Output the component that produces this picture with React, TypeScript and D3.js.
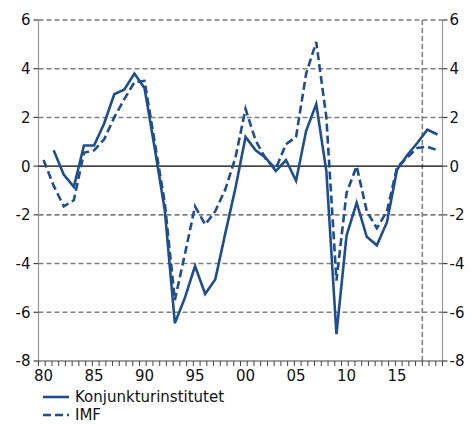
import React from 'react';
import * as d3 from 'd3';

const years = [
  1980, 1981, 1982, 1983, 1984, 1985, 1986, 1987, 1988, 1989,
  1990, 1991, 1992, 1993, 1994, 1995, 1996, 1997, 1998, 1999,
  2000, 2001, 2002, 2003, 2004, 2005, 2006, 2007, 2008, 2009,
  2010, 2011, 2012, 2013, 2014, 2015, 2016, 2017, 2018, 2019,
];

// Konjunkturinstitutet (solid)
const ki = [
  null, 0.65, -0.35, -0.85, 0.85, 0.85, 1.75, 2.95, 3.15, 3.8,
  3.2, 0.75, -1.8, -6.45, -5.4, -4.1, -5.25, -4.65, -2.75, -0.9,
  1.2, 0.65, 0.35, -0.2, 0.25, -0.6, 1.45, 2.55, -0.2, -6.9,
  -2.85, -1.5, -2.9, -3.25, -2.3, -0.15, 0.45, 0.95, 1.5, 1.3,
];

// IMF (dashed)
const imf = [
  0.25, -0.8, -1.65, -1.4, 0.55, 0.65, 1.1, 2.0, 2.75, 3.45,
  3.5, 1.0, -1.5, -5.5, -3.6, -1.65, -2.4, -1.85, -0.95, 0.35,
  2.35, 1.05, 0.3, -0.1, 0.9, 1.2, 3.8, 5.1, 2.0, -4.7,
  -1.1, 0.0, -1.85, -2.55, -1.85, -0.05, 0.35, 0.75, 0.8, 0.65,
];

const yTicks = [-8, -6, -4, -2, 0, 2, 4, 6];
const xLabels = [
  { year: 1980, label: '80' },
  { year: 1985, label: '85' },
  { year: 1990, label: '90' },
  { year: 1995, label: '95' },
  { year: 2000, label: '00' },
  { year: 2005, label: '05' },
  { year: 2010, label: '10' },
  { year: 2015, label: '15' },
];
const forecastStart = 2018;

const W = 471;
const H = 425;
const left = 38.5;
const right = 442.5;
const top = 20;
const bottom = 361;
const blue = '#1f4e8f';
const font = 'Verdana, "DejaVu Sans", sans-serif';
const fs = 15;

export default function App() {
  const x = d3.scaleLinear().domain([1979.5, 2019.5]).range([left, right]);
  const y = d3.scaleLinear().domain([-8, 6]).range([bottom, top]);

  const line = d3
    .line<[number, number | null]>()
    .defined((d) => d[1] !== null)
    .x((d) => x(d[0]))
    .y((d) => y(d[1] as number));

  const kiPath = line(years.map((yr, i) => [yr, ki[i]]));
  const imfPath = line(years.map((yr, i) => [yr, imf[i]]));

  // minor ticks on the bottom axis
  const minorTicks = d3.range(0, 61).map((i) => left + (i * (right - left)) / 60);

  return (
    <div style={{ position: 'absolute', left: 0, top: 0 }}>
      <svg width={W} height={H} style={{ display: 'block', fontFamily: font }}>
        <rect width={W} height={H} fill="#fff" />

        {/* grid */}
        {yTicks
          .filter((t) => t !== 0 && t !== -8)
          .map((t) => (
            <line
              key={t}
              x1={left}
              x2={right}
              y1={y(t)}
              y2={y(t)}
              stroke="#7f7f7f"
              strokeWidth={1.6}
              strokeDasharray="5,3"
            />
          ))}

        {/* forecast divider */}
        <line
          x1={x(forecastStart - 0.5)}
          x2={x(forecastStart - 0.5)}
          y1={top}
          y2={bottom}
          stroke="#7f7f7f"
          strokeWidth={1.6}
          strokeDasharray="5,3"
        />

        {/* axes */}
        <line x1={left} x2={left} y1={top} y2={bottom} stroke="#999" strokeWidth={1.2} />
        <line x1={right} x2={right} y1={top} y2={bottom} stroke="#999" strokeWidth={1.2} />
        <line x1={left} x2={right} y1={bottom} y2={bottom} stroke="#444" strokeWidth={1.2} />
        <line x1={left} x2={right} y1={y(0)} y2={y(0)} stroke="#000" strokeWidth={1.2} />

        {yTicks.map((t) => (
          <g key={t}>
            <line x1={left - 5} x2={left} y1={y(t)} y2={y(t)} stroke="#444" strokeWidth={1.2} />
            <line x1={right} x2={right + 5} y1={y(t)} y2={y(t)} stroke="#444" strokeWidth={1.2} />
            <text x={left - 8} y={y(t)} dy="0.36em" textAnchor="end" fontSize={fs} fill="#111">
              {t}
            </text>
            <text x={right + 7} y={y(t)} dy="0.36em" textAnchor="start" fontSize={fs} fill="#111">
              {t}
            </text>
          </g>
        ))}

        {minorTicks.map((tx, i) => (
          <line key={i} x1={tx} x2={tx} y1={bottom} y2={bottom + 5} stroke="#444" strokeWidth={1} />
        ))}

        {xLabels.map((d) => (
          <text key={d.label} x={x(d.year)} y={bottom + 20} textAnchor="middle" fontSize={fs} fill="#111">
            {d.label}
          </text>
        ))}

        {/* series */}
        <path d={imfPath ?? ''} fill="none" stroke={blue} strokeWidth={2.6} strokeDasharray="8,4" />
        <path d={kiPath ?? ''} fill="none" stroke={blue} strokeWidth={2.6} />

        {/* legend */}
        <line x1={43} x2={69} y1={397} y2={397} stroke={blue} strokeWidth={2.6} />
        <text x={75} y={397} dy="0.36em" fontSize={fs} fill="#111">
          Konjunkturinstitutet
        </text>
        <line x1={43} x2={69} y1={415} y2={415} stroke={blue} strokeWidth={2.6} strokeDasharray="8,4" />
        <text x={75} y={415} dy="0.36em" fontSize={fs} fill="#111">
          IMF
        </text>
      </svg>
    </div>
  );
}
